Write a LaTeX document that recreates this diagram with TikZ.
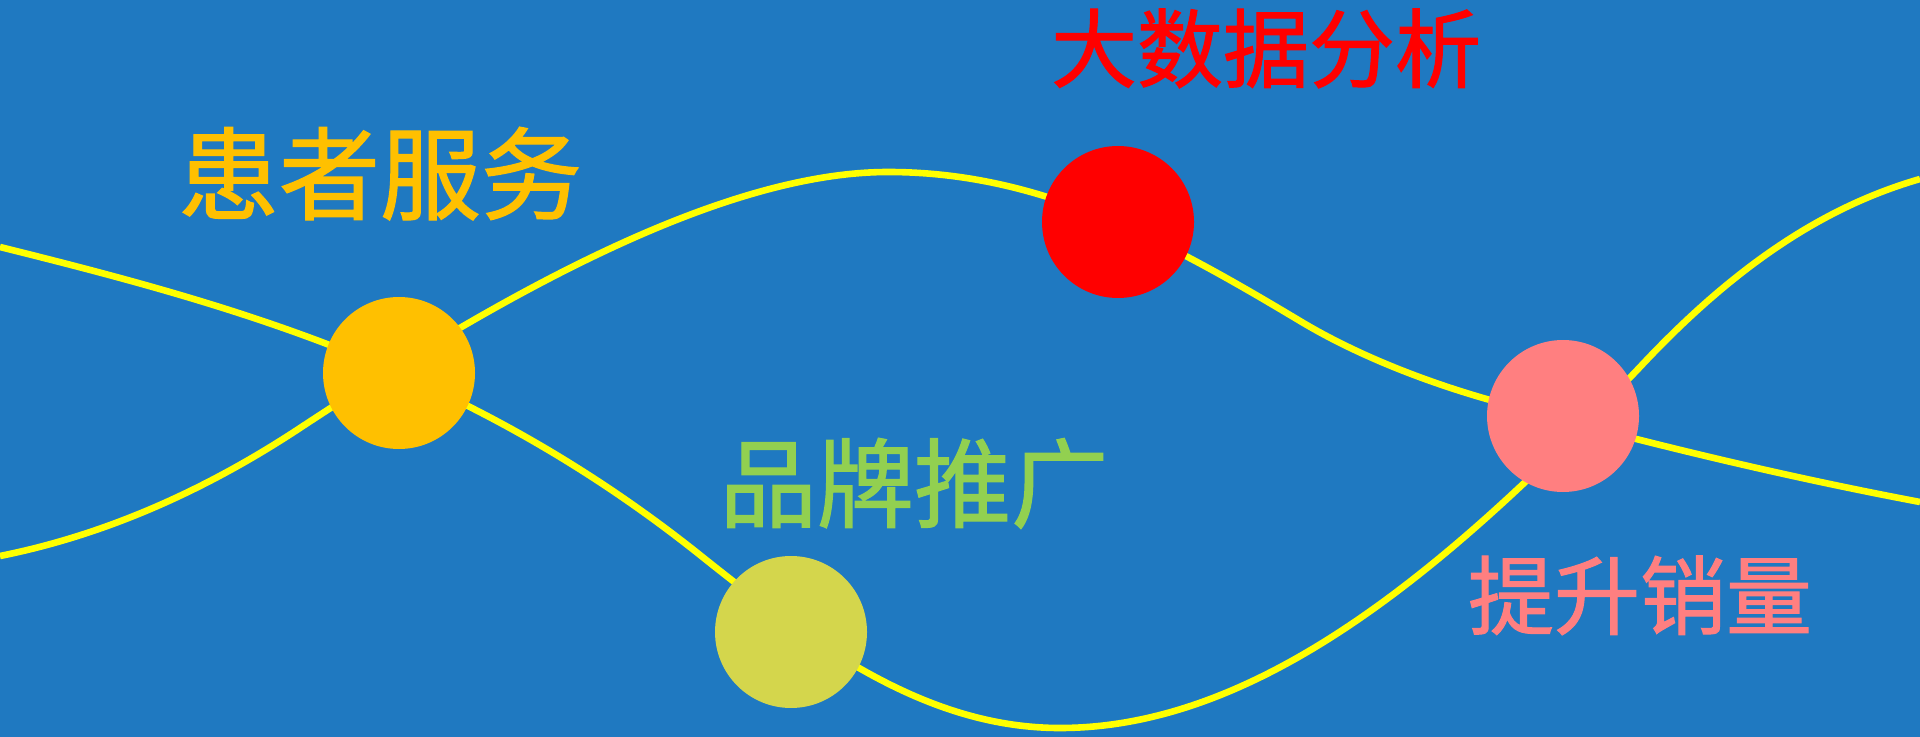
\documentclass[tikz,border=0pt]{standalone}
\usepackage{fontspec}
\newfontfamily\cjk[FakeBold=1.2]{Noto Sans CJK SC}
\definecolor{bg}{RGB}{31,121,193}
\definecolor{waveyellow}{RGB}{255,255,0}
\definecolor{cOrange}{RGB}{255,192,0}
\definecolor{cRed}{RGB}{255,0,0}
\definecolor{cOlive}{RGB}{212,214,76}
\definecolor{cSalmon}{RGB}{255,127,128}
\definecolor{cGreen}{RGB}{146,208,80}
\begin{document}
\begin{tikzpicture}[x=0.5pt,y=-0.5pt,
  wave/.style={draw=waveyellow, line width=3.3pt},
  dot/.style={circle, minimum size=76pt, inner sep=0pt, draw=none},
  lbl/.style={anchor=base, inner sep=0pt}]
\fill[bg] (0,0) rectangle (1920,737);
\useasboundingbox (0,0) rectangle (1920,737);
\clip (0,0) rectangle (1920,737);
% curve A
\coordinate (a0) at (0,247);
\coordinate (a1) at (700,555);
\coordinate (a2) at (1060,728);
\coordinate (a3) at (1640,367);
\coordinate (a4) at (1920,179);
\draw[wave] (a0) .. controls (233,305) and (467,369) .. (a1)
  .. controls (820,651) and (930,728) .. (a2)
  .. controls (1260,728) and (1450,567) .. (a3)
  .. controls (1740,260) and (1830,205) .. (a4);
% curve B
\coordinate (b0) at (0,556);
\coordinate (b1) at (300,428);
\coordinate (b2) at (888,172);
\coordinate (b3) at (1300,321);
\coordinate (b4) at (1490,400);
\coordinate (b5) at (1920,502);
\draw[wave] (b0) .. controls (100,536) and (200,494) .. (b1)
  .. controls (470,316) and (708,172) .. (b2)
  .. controls (1038,172) and (1160,237) .. (b3)
  .. controls (1360,357) and (1430,383) .. (b4)
  .. controls (1633,440) and (1777,475) .. (b5);
% circles
\node[dot, fill=cOrange] (service) at (399,373) {};
\node[dot, fill=cRed] (data) at (1118,222) {};
\node[dot, fill=cOlive] (brand) at (791,632) {};
\node[dot, fill=cSalmon] (sales) at (1563,416) {};
% labels
\node[lbl, text=cOrange, font=\cjk\fontsize{50.5pt}{50.5pt}\selectfont] (tservice) at (380,212) {患者服务};
\node[lbl, text=cRed, font=\cjk\fontsize{43pt}{43pt}\selectfont] (tdata) at (1266,81) {大数据分析};
\node[lbl, text=cGreen, font=\cjk\fontsize{48.6pt}{48.6pt}\selectfont] (tbrand) at (914,520) {品牌推广};
\node[lbl, text=cSalmon, font=\cjk\fontsize{43pt}{43pt}\selectfont] (tsales) at (1640,628) {提升销量};
\end{tikzpicture}
\end{document}
